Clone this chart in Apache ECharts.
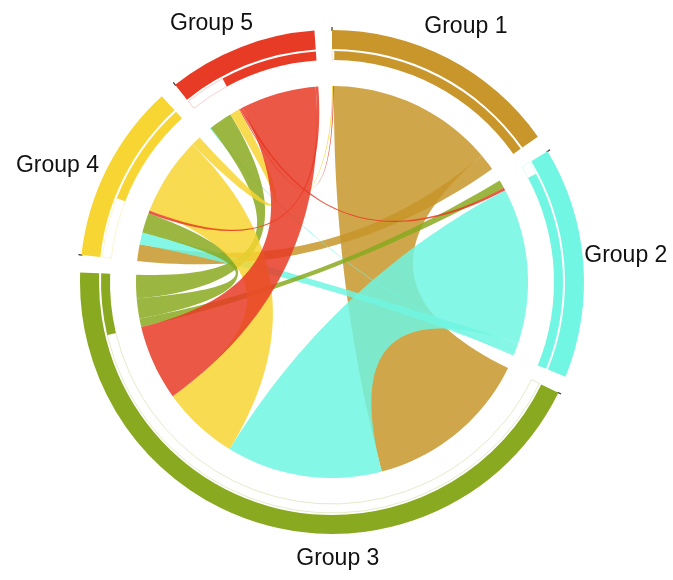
<!DOCTYPE html>
<html>
<head>
<meta charset="utf-8">
<script src="https://cdn.jsdelivr.net/npm/echarts@6/dist/echarts.min.js"></script>
<style>
html, body { margin: 0; padding: 0; background: #fff; }
#main { width: 673px; height: 580px; }
</style>
</head>
<body>
<div id="main"></div>
<script>
// groups and their colours
var groupNames = ['Group 1', 'Group 2', 'Group 3', 'Group 4', 'Group 5'];
var groupColors = ['#C8962B', '#70F6E2', '#89AA20', '#F7D533', '#E83B26'];

// flows: source group -> target group (value)
var flowSource = [0, 0, 1, 1, 1, 2, 2, 2, 3, 3, 3, 4, 4, 4, 4];
var flowTarget = [2, 3, 2, 3, 4, 1, 3, 4, 0, 2, 4, 0, 1, 2, 3];
var flowValue  = [49.5, 5, 46.5, 3.5, 0.3, 2.5, 6, 7, 0.3, 23, 3, 0.3, 0.8, 22.5, 0.8];

// look
var CENTER = [332, 282];
var R_OUT = [233, 252];     // group ring
var R_BAND = [222, 231];    // outgoing ring
var R_RIB = 196;            // ribbons
var PAD_DEG = 4;
var labelAngleDeg = [27.7, 84.9, 178.8, 292.9, 335];
var labelRadius = [288, 295, 277, 298, 285];

/* layout: each group = incoming part (by source) + outgoing part (by target) */
var n = groupNames.length;
var inSum = [], outSum = [];
for (var i = 0; i < n; i++) { inSum.push(0); outSum.push(0); }
flowValue.forEach(function (v, k) {
    outSum[flowSource[k]] += v;
    inSum[flowTarget[k]] += v;
});
var total = 0;
for (i = 0; i < n; i++) total += inSum[i] + outSum[i];
var pad = total * PAD_DEG / (360 - n * PAD_DEG);
var axisMax = total + n * pad;

var groupStart = [];
var pos = 0;
for (i = 0; i < n; i++) {
    groupStart.push(pos);
    pos += inSum[i] + outSum[i] + pad;
}

var idx = flowValue.map(function (v, k) { return k; });
var srcPos = [], tgtPos = [];
var cur = groupStart.slice();
idx.slice().sort(function (a, b) {
    return flowTarget[a] - flowTarget[b] || flowSource[a] - flowSource[b];
}).forEach(function (k) {
    var t = flowTarget[k];
    tgtPos[k] = [cur[t], cur[t] + flowValue[k]];
    cur[t] += flowValue[k];
});
cur = groupStart.map(function (s, i) { return s + inSum[i]; });
idx.slice().sort(function (a, b) {
    return flowSource[a] - flowSource[b] || flowTarget[a] - flowTarget[b];
}).forEach(function (k) {
    var s = flowSource[k];
    srcPos[k] = [cur[s], cur[s] + flowValue[k]];
    cur[s] += flowValue[k];
});
var ribbonData = idx.map(function (k) {
    return [srcPos[k][0], srcPos[k][1], tgtPos[k][0], tgtPos[k][1], flowSource[k]];
});

// ring data (pie slices with transparent gaps)
var outerData = [], bandData = [];
var gap = { value: pad, itemStyle: { color: 'rgba(0,0,0,0)' } };
for (i = 0; i < n; i++) {
    outerData.push({ name: groupNames[i], value: inSum[i] + outSum[i], itemStyle: { color: groupColors[i] } });
    outerData.push(gap);
    bandData.push({ value: inSum[i], itemStyle: { color: '#fff', borderColor: echarts.color.modifyAlpha(groupColors[i], 0.3), borderWidth: 0.8 } });
    bandData.push({ value: outSum[i], itemStyle: { color: groupColors[i] } });
    bandData.push(gap);
}

function arcPoints(api, r, v0, v1, pts) {
    var steps = Math.max(2, Math.ceil(Math.abs(v1 - v0) / axisMax * 180));
    for (var s = 0; s <= steps; s++) {
        pts.push(api.coord([r, v0 + (v1 - v0) * s / steps]).slice(0, 2));
    }
}
function curvePoints(p0, c, p1, pts) {
    for (var s = 1; s < 40; s++) {
        var t = s / 40, u = 1 - t;
        pts.push([u * u * p0[0] + 2 * u * t * c[0] + t * t * p1[0],
                  u * u * p0[1] + 2 * u * t * c[1] + t * t * p1[1]]);
    }
}

var renderRibbon = function (params, api) {
    var a0 = api.value(0), a1 = api.value(1), b0 = api.value(2), b1 = api.value(3);
    var c = api.coord([0, 0]).slice(0, 2);
    var pts = [];
    arcPoints(api, R_RIB, a0, a1, pts);
    curvePoints(api.coord([R_RIB, a1]), c, api.coord([R_RIB, b0]), pts);
    arcPoints(api, R_RIB, b0, b1, pts);
    curvePoints(api.coord([R_RIB, b1]), c, api.coord([R_RIB, a0]), pts);
    return {
        type: 'polygon',
        shape: { points: pts },
        style: { fill: groupColors[api.value(4)], opacity: 0.85 }
    };
};

var renderLabel = function (params, api) {
    var g = api.value(0);
    var p = api.coord([labelRadius[g], labelAngleDeg[g] / 360 * axisMax]);
    var t0 = api.coord([R_OUT[1] - 1, groupStart[g]]);
    var t1 = api.coord([R_OUT[1] + 3, groupStart[g]]);
    return {
        type: 'group',
        children: [{
            type: 'line',
            shape: { x1: t0[0], y1: t0[1], x2: t1[0], y2: t1[1] },
            style: { stroke: '#333', lineWidth: 1.2 }
        }, {
            type: 'text',
            x: p[0],
            y: p[1],
            style: {
                text: groupNames[g],
                fill: '#111',
                fontSize: 23,
                fontFamily: 'Liberation Sans',
                align: 'center',
                verticalAlign: 'middle'
            }
        }]
    };
};

var myChart = echarts.init(document.getElementById('main'));
var options = {
    animation: false,
    polar: { center: CENTER, radius: R_OUT[1] },
    angleAxis: { type: 'value', min: 0, max: axisMax, startAngle: 90, clockwise: true, show: false },
    radiusAxis: { type: 'value', min: 0, max: R_OUT[1], show: false },
    series: [
        {
            type: 'pie',
            center: CENTER,
            radius: R_OUT,
            startAngle: 90,
            clockwise: true,
            silent: true,
            label: { show: false },
            labelLine: { show: false },
            data: outerData
        },
        {
            type: 'pie',
            center: CENTER,
            radius: R_BAND,
            startAngle: 90,
            clockwise: true,
            silent: true,
            label: { show: false },
            labelLine: { show: false },
            data: bandData
        },
        {
            type: 'custom',
            coordinateSystem: 'polar',
            silent: true,
            renderItem: renderRibbon,
            data: ribbonData
        },
        {
            type: 'custom',
            coordinateSystem: 'polar',
            silent: true,
            renderItem: renderLabel,
            data: groupNames.map(function (g, i) { return [i]; })
        }
    ]
};
myChart.setOption(options);
</script>
</body>
</html>
